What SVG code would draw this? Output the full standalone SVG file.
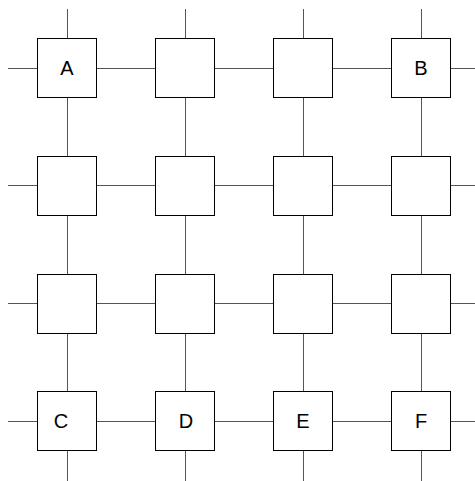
<svg xmlns="http://www.w3.org/2000/svg" width="475" height="481" viewBox="0 0 475 481">
<style>
.ln{stroke:#555;stroke-width:1;fill:none}
.bx{fill:#fff;stroke:#000;stroke-width:1}
.lb{font-family:"Liberation Sans",Arial,sans-serif;font-size:20px;text-anchor:middle;fill:#000}
</style>
<rect width="475" height="481" fill="#fff"/>
<g id="connectors">
<line class="ln" x1="8" y1="68.5" x2="475" y2="68.5"/>
<line class="ln" x1="8" y1="185.5" x2="475" y2="185.5"/>
<line class="ln" x1="8" y1="303.5" x2="475" y2="303.5"/>
<line class="ln" x1="8" y1="421.5" x2="475" y2="421.5"/>
<line class="ln" x1="67.5" y1="9" x2="67.5" y2="481"/>
<line class="ln" x1="185.5" y1="9" x2="185.5" y2="481"/>
<line class="ln" x1="303.5" y1="9" x2="303.5" y2="481"/>
<line class="ln" x1="421.5" y1="9" x2="421.5" y2="481"/>
</g>
<g id="n11"><rect class="bx" x="37.5" y="38.5" width="59" height="59"/><text class="lb" x="67" y="75">A</text></g>
<g id="n12"><rect class="bx" x="155.5" y="38.5" width="59" height="59"/></g>
<g id="n13"><rect class="bx" x="273.5" y="38.5" width="59" height="59"/></g>
<g id="n14"><rect class="bx" x="391.5" y="38.5" width="59" height="59"/><text class="lb" x="421" y="75">B</text></g>
<g id="n21"><rect class="bx" x="37.5" y="156.5" width="59" height="59"/></g>
<g id="n22"><rect class="bx" x="155.5" y="156.5" width="59" height="59"/></g>
<g id="n23"><rect class="bx" x="273.5" y="156.5" width="59" height="59"/></g>
<g id="n24"><rect class="bx" x="391.5" y="156.5" width="59" height="59"/></g>
<g id="n31"><rect class="bx" x="37.5" y="274.5" width="59" height="59"/></g>
<g id="n32"><rect class="bx" x="155.5" y="274.5" width="59" height="59"/></g>
<g id="n33"><rect class="bx" x="273.5" y="274.5" width="59" height="59"/></g>
<g id="n34"><rect class="bx" x="391.5" y="274.5" width="59" height="59"/></g>
<g id="n41"><rect class="bx" x="37.5" y="391.5" width="59" height="59"/><text class="lb" x="61" y="428">C</text></g>
<g id="n42"><rect class="bx" x="155.5" y="391.5" width="59" height="59"/><text class="lb" x="186" y="428">D</text></g>
<g id="n43"><rect class="bx" x="273.5" y="391.5" width="59" height="59"/><text class="lb" x="303" y="428">E</text></g>
<g id="n44"><rect class="bx" x="391.5" y="391.5" width="59" height="59"/><text class="lb" x="421" y="428">F</text></g>
</svg>
